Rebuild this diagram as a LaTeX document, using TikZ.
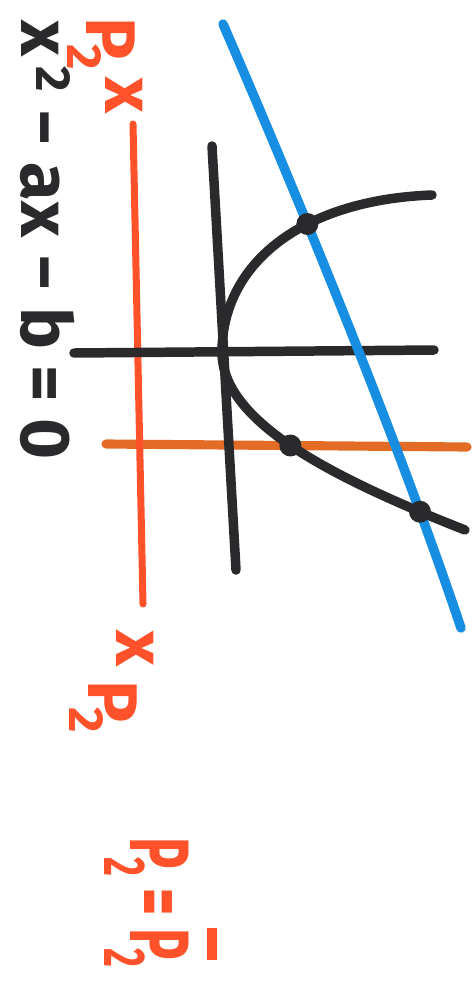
\documentclass[tikz,border=0pt]{standalone}
\usepackage{fontspec}
\setmainfont{Fira Sans}
\usetikzlibrary{intersections}
\definecolor{ink}{RGB}{42, 42, 44}
\definecolor{markred}{RGB}{255, 82, 42}
\definecolor{markorange}{RGB}{226, 108, 38}
\definecolor{markblue}{RGB}{24, 142, 226}
\newcommand{\pbar}[1]{\leavevmode\setbox0\hbox{#1}\rlap{\rule[\dimexpr\ht0+0.22em\relax]{\wd0}{0.12em}}\box0}
\newcommand{\psub}[1]{\kern-0.22em\textsubscript{#1}}
\tikzset{
	inkline/.style={draw=ink, line width=5.4pt, line cap=round},
	redline/.style={draw=markred, line width=4pt, line cap=round},
	orangeline/.style={draw=markorange, line width=5.2pt, line cap=round},
	blueline/.style={draw=markblue, line width=5.4pt, line cap=round},
	crossdot/.style={fill=ink, draw=none},
	eqlabel/.style={text=ink, font=\fontsize{40}{40}\selectfont\bfseries, rotate=-90, inner sep=0pt},
	plabel/.style={text=markred, font=\fontsize{40}{40}\selectfont\bfseries, rotate=-90, inner sep=0pt},
}

\begin{document}
\begin{tikzpicture}[x=0.02cm, y=-0.02cm]
	\useasboundingbox (0,0) rectangle (476,987);
	% straight lines
	\draw[orangeline, name path=pline] (106,444) -- (467,447);
	\draw[redline] (133,124) -- (143,604);
	\draw[inkline] (212,146) -- (236,570);
	\draw[inkline] (74,353) -- (434,350);
	% parabola
	\draw[inkline, name path=upper] (222,352) .. controls (222,265) and (300,200) .. (432,195);
	\draw[inkline, name path=lower] (222,352) .. controls (222,420) and (325,475) .. (465,530);
	\draw[blueline, name path=qline] (223,24) .. controls (295,190) and (398,440) .. (461,628);
	% crossing points
	\path[name intersections={of=upper and qline, by=qa}];
	\path[name intersections={of=lower and pline, by=pb}];
	\path[name intersections={of=lower and qline, by=qb}];
	\fill[crossdot] (qa) circle (0.22cm);
	\fill[crossdot] (pb) circle (0.22cm);
	\fill[crossdot] (qb) circle (0.22cm);
	% labels
	\node[eqlabel, anchor=base west] (quadratic) at (21,20) {x\kern0.15em\textsuperscript{2} − ax − b = 0};
	\node[plabel, anchor=base west] (pstart) at (86,17) {P\psub{2}\kern0.1em\raisebox{0.28em}{x}};
	\node[plabel, anchor=base west] (pend) at (88,630) {\raisebox{0.4em}{x}\hspace{0.2em}P\psub{2}};
	\node[plabel, anchor=base west, xscale=0.62, font=\fontsize{48}{48}\selectfont\bfseries] (pequal) at (130,837) {P\psub{2} = \pbar{P}\psub{2}};
\end{tikzpicture}
\end{document}
